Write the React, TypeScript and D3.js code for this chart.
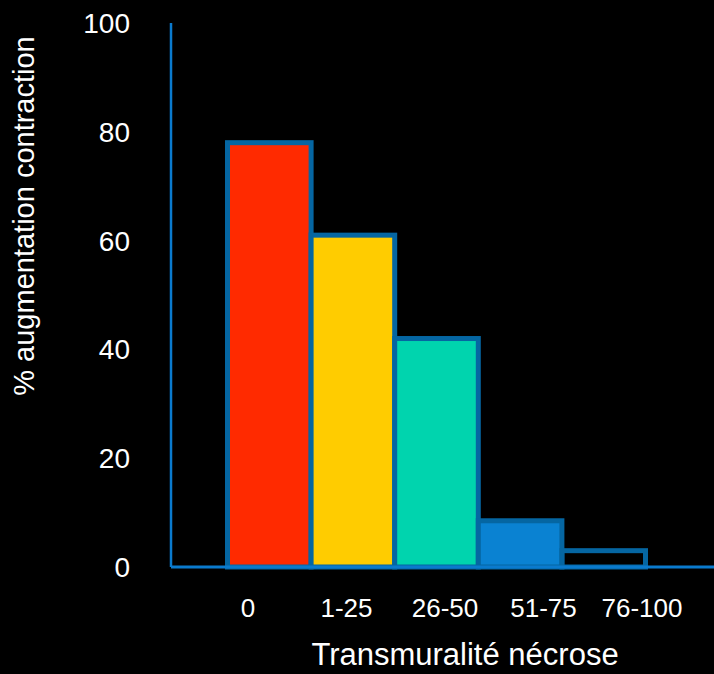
import React from "react";
import * as d3 from "d3";

const categories = ["0", "1-25", "26-50", "51-75", "76-100"];
const values = [78, 61, 42, 8.5, 3];
const fills = ["#ff2a00", "#ffcc00", "#00d4ae", "#0a82d2", "none"];
const yTicks = [0, 20, 40, 60, 80, 100];
const xTitle = "Transmuralité nécrose";
const yTitle = "% augmentation contraction";

const W = 714;
const H = 674;
const axisX = 171;
const baseY = 567;
const topY = 23;
const FONT = "'Liberation Sans', Arial, sans-serif";

export default function App() {
  const y = d3.scaleLinear().domain([0, 100]).range([baseY, topY]);
  const x = d3.scaleBand<string>().domain(categories).range([227.5, 645.5]).padding(0);
  const bw = x.bandwidth();
  // category labels are spread a little wider than the bars themselves
  const xLabel = d3.scalePoint<string>().domain(categories).range([248, 642]);

  return (
    <div style={{ position: "fixed", left: 0, top: 0, width: W, height: H, background: "#000" }}>
      <svg width={W} height={H} style={{ display: "block" }}>
        <rect x={0} y={0} width={W} height={H} fill="#000" />
        {/* y axis */}
        <line x1={axisX} x2={axisX} y1={topY} y2={baseY} stroke="#0a7acd" strokeWidth={2.5} />
        {yTicks.map((t) => (
          <text
            key={t}
            x={130}
            y={y(t)}
            dy="0.36em"
            textAnchor="end"
            fill="#fff"
            fontFamily={FONT}
            fontSize={28}
          >
            {t}
          </text>
        ))}
        {/* bars */}
        {categories.map((c, i) => (
          <rect
            key={c}
            x={x(c)!}
            y={y(values[i])}
            width={bw}
            height={y(0) - y(values[i])}
            fill={fills[i]}
            stroke="#0566a2"
            strokeWidth={5}
          />
        ))}
        {/* x axis */}
        <line x1={axisX} x2={W} y1={baseY} y2={baseY} stroke="#0a7acd" strokeWidth={3} />
        {categories.map((c) => (
          <text
            key={c}
            x={xLabel(c)!}
            y={617}
            textAnchor="middle"
            fill="#fff"
            fontFamily={FONT}
            fontSize={26}
          >
            {c}
          </text>
        ))}
        <text x={465} y={665} textAnchor="middle" fill="#fff" fontFamily={FONT} fontSize={31}>
          {xTitle}
        </text>
        <text
          transform={`translate(34, 216) rotate(-90)`}
          textAnchor="middle"
          fill="#fff"
          fontFamily={FONT}
          fontSize={29}
        >
          {yTitle}
        </text>
      </svg>
    </div>
  );
}
